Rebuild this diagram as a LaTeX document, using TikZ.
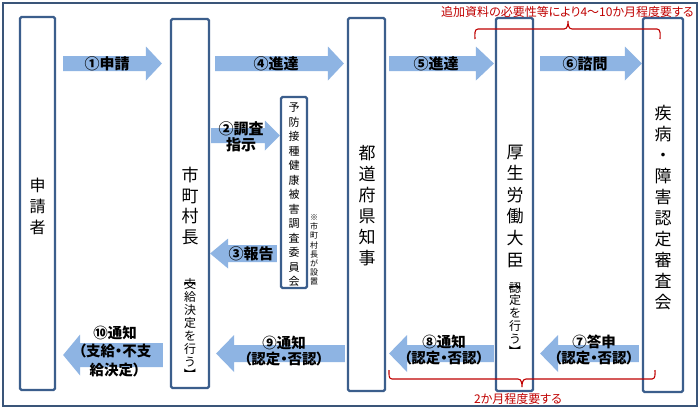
\documentclass[tikz,border=0pt]{standalone}
\usepackage{fontspec}
\usepackage{graphicx}
\newfontfamily\jp[RawFeature=+palt]{Noto Sans CJK JP}
\newfontfamily\jpv{Noto Sans CJK JP}
\usetikzlibrary{calc}
\definecolor{boxline}{HTML}{3B5E8C}
\definecolor{arrowblue}{HTML}{8EB4E3}
\definecolor{framec}{HTML}{3A5579}
\definecolor{redc}{HTML}{C00000}
\newcommand\vopen{\rotatebox[origin=c]{-90}{【}}
\newcommand\vclose{\rotatebox[origin=c]{-90}{】}}
% right-pointing block arrow: from node, to node, gap start, gap end, y, half body, half head, head length
\newcommand\arrR[8]{%
  \fill[arrowfill] let \p1=(#1.east), \p2=(#2.west) in
  (\x1+#3,#5+#6) -- (\x2-#4-#8,#5+#6) -- (\x2-#4-#8,#5+#7) -- (\x2-#4,#5)
  -- (\x2-#4-#8,#5-#7) -- (\x2-#4-#8,#5-#6) -- (\x1+#3,#5-#6) -- cycle;}
% left-pointing block arrow: from node (right), to node (left), ...
\newcommand\arrL[8]{%
  \fill[arrowfill] let \p1=(#1.west), \p2=(#2.east) in
  (\x1-#3,#5+#6) -- (\x2+#4+#8,#5+#6) -- (\x2+#4+#8,#5+#7) -- (\x2+#4,#5)
  -- (\x2+#4+#8,#5-#7) -- (\x2+#4+#8,#5-#6) -- (\x1-#3,#5-#6) -- cycle;}
\begin{document}
\begin{tikzpicture}[x=1pt,y=1pt,
  box/.style={draw=boxline, line width=2.2pt, fill=white, rounded corners=1.5pt, inner sep=0pt},
  vtext/.style={align=center, inner sep=0pt, text=black},
  alabel/.style={align=center, inner sep=0pt, font=\jp\bfseries\fontsize{15}{16}\selectfont},
  alabelb/.style={align=center, inner sep=0pt, font=\jp\bfseries\fontsize{14.5}{16.5}\selectfont},
  arrowfill/.style={fill=arrowblue},
  brace/.style={draw=redc, line width=1.1pt},
  redtext/.style={inner sep=0pt, text=redc, font=\jp\fontsize{12}{14}\selectfont}]
\useasboundingbox (0,0) rectangle (700,-410);
\fill[white] (0,0) rectangle (700,-410);
\draw[framec, line width=2.2pt] (3,-3) rectangle (697,-406);

% boxes
\node[box, minimum width=35pt, minimum height=373pt] (shinsei) at (37.5,-203.5) {};
\node[box, minimum width=38pt, minimum height=369pt] (shicho) at (190,-203.5) {};
\node[box, minimum width=26pt, minimum height=191pt] (iinkai) at (294,-192.5) {};
\node[box, minimum width=37pt, minimum height=373pt] (chiji) at (366.5,-204.5) {};
\node[box, minimum width=37pt, minimum height=373pt] (daijin) at (514.5,-204.5) {};
\node[box, minimum width=40pt, minimum height=374pt] (shinsa) at (663,-205) {};

% box texts
\node[vtext, font=\jpv\fontsize{16}{21}\selectfont] (tshinsei) at (37.5,-206) {申\\請\\者};
\node[vtext, font=\jpv\fontsize{17}{20.7}\selectfont] (tshicho) at (190,-206) {市\\町\\村\\長};
\node[vtext, font=\jpv\fontsize{12}{13}\selectfont] (tshicho2) at (190,-329.5) {支\\給\\決\\定\\を\\行\\う\\\vclose};
\node[vtext, font=\jpv\fontsize{12}{13}\selectfont] (tshicho3) at (190,-280) {\vopen};
\node[vtext, font=\jpv\fontsize{11}{14.5}\selectfont] (tiinkai) at (294,-195) {予\\防\\接\\種\\健\\康\\被\\害\\調\\査\\委\\員\\会};
\node[vtext, font=\jpv\fontsize{8}{9.1}\selectfont] (tnote) at (314,-250) {※\\市\\町\\村\\長\\が\\設\\置};
\node[vtext, font=\jpv\fontsize{17}{21}\selectfont] (tchiji) at (367,-205.5) {都\\道\\府\\県\\知\\事};
\node[vtext, font=\jpv\fontsize{17}{21.6}\selectfont] (tdaijin) at (515,-206) {厚\\生\\労\\働\\大\\臣};
\node[vtext, font=\jpv\fontsize{12}{12.8}\selectfont] (tdaijin2) at (515,-320) {認\\定\\を\\行\\う\\\vclose};
\node[vtext, font=\jpv\fontsize{12}{13}\selectfont] (tdaijin3) at (515,-284) {\vopen};
\node[vtext, font=\jpv\fontsize{17}{21}\selectfont] (tshinsa) at (663,-207.5) {疾\\病\\・\\障\\害\\認\\定\\審\\査\\会};

% arrows
\arrR{shinsei}{shicho}{7}{8}{-63.5}{7.5}{17}{16}
\arrR{shicho}{chiji}{5}{3}{-63.5}{7.5}{17}{16}
\arrR{chiji}{daijin}{3}{1}{-63.5}{7.5}{17}{18}
\arrR{daijin}{shinsa}{6}{0}{-63.5}{7.5}{17}{17}
\arrR{shicho}{iinkai}{1}{0}{-135.5}{7.5}{15}{15}
\arrL{iinkai}{shicho}{3}{0}{-253.5}{8.5}{15}{18}
\arrL{shicho}{shinsei}{7}{7}{-355}{12}{20.5}{17}
\arrL{chiji}{shicho}{2}{6}{-353.5}{8.5}{18.5}{18}
\arrL{daijin}{chiji}{1}{3}{-353.5}{8.5}{18.5}{18}
\arrL{shinsa}{daijin}{3}{6}{-353.5}{8.5}{18.5}{18}

% arrow labels
\node[alabel] (l1) at (107,-63.5) {①申請};
\node[alabel] (l4) at (276,-63.5) {④進達};
\node[alabel] (l5) at (436,-63.5) {⑤進達};
\node[alabel] (l6) at (585,-63.5) {⑥諮問};
\node[alabel] (l2) at (241,-137) {②調査\\指示};
\node[alabel] (l3) at (251,-253.5) {③報告};
\node[alabelb, font=\jp\bfseries\fontsize{14.5}{18.5}\selectfont] (l10) at (115,-351.5) {⑩通知\\（支給・不支\\給決定）};
\node[alabelb] (l9) at (284,-351) {⑨通知\\（認定・否認）};
\node[alabelb] (l8) at (444,-350) {⑧通知\\（認定・否認）};
\node[alabelb] (l7) at (594,-350) {⑦答申\\（認定・否認）};

% red braces and texts
\node[redtext] (toptxt) at (567.5,-12) {追加資料の必要性等により4～10か月程度要する};
\draw[brace] (475,-39) to[out=90,in=180] (478,-29) -- (564,-29) to[out=0,in=-90] (568,-21)
  to[out=-90,in=180] (572,-29) -- (657,-29) to[out=0,in=90] (660,-39);
\node[redtext] (bottxt) at (518,-399) {2か月程度要する};
\draw[brace] (389,-370) to[out=-90,in=180] (392,-379) -- (518,-379) to[out=0,in=90] (522,-387)
  to[out=90,in=180] (526,-379) -- (652,-379) to[out=0,in=-90] (655,-370);
\end{tikzpicture}
\end{document}
